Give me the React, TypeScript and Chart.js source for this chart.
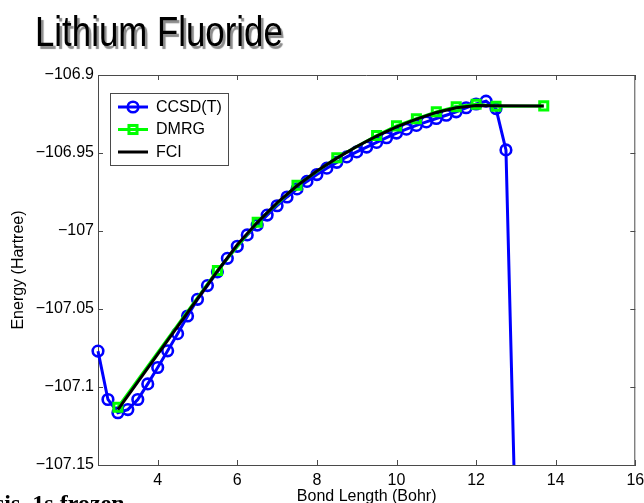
import React, { useEffect, useRef } from 'react';
import { Chart, registerables } from 'chart.js';

Chart.register(...registerables);

const chartTitle = 'Lithium Fluoride';
const footText = 'sis, 1s frozen';
const xTitle = 'Bond Length (Bohr)';
const yTitle = 'Energy (Hartree)';
const seriesNames = ['CCSD(T)', 'DMRG', 'FCI'];

const ccsdX = [2.5, 2.75, 3, 3.25, 3.5, 3.75, 4, 4.25, 4.5, 4.75, 5, 5.25, 5.5, 5.75, 6, 6.25, 6.5, 6.75, 7, 7.25, 7.5, 7.75, 8, 8.25, 8.5, 8.75, 9, 9.25, 9.5, 9.75, 10, 10.25, 10.5, 10.75, 11, 11.25, 11.5, 11.75, 12, 12.25, 12.5, 12.75, 13];
const ccsdY = [-107.077, -107.108, -107.1165, -107.1145, -107.108, -107.098, -107.0875, -107.0768, -107.0658, -107.0545, -107.0438, -107.035, -107.0262, -107.0175, -107.0098, -107.0025, -106.9962, -106.9898, -106.9838, -106.9782, -106.973, -106.9682, -106.9638, -106.9597, -106.956, -106.9525, -106.9493, -106.9462, -106.9432, -106.9402, -106.9372, -106.9347, -106.9323, -106.9301, -106.9279, -106.9258, -106.9236, -106.921, -106.9186, -106.9168, -106.9215, -106.948, -107.2];

const dmrgX = [3.0, 5.5, 6.5, 7.5, 8.5, 9.5, 10, 10.5, 11, 11.5, 12, 12.5, 13.7];
const dmrgY = [-107.113, -107.0253, -106.9944, -106.9707, -106.953, -106.9388, -106.9326, -106.928, -106.9236, -106.9204, -106.9188, -106.92, -106.9198];

const fciX = [3.0, 5.5, 6.0, 6.5, 7.0, 7.5, 8.0, 8.5, 9.0, 9.5, 10, 10.5, 11, 11.5, 12, 12.5, 13.7];
const fciY = [-107.1145, -107.0258, -107.0088, -106.9946, -106.982, -106.971, -106.9615, -106.9533, -106.9458, -106.9392, -106.9332, -106.9283, -106.924, -106.921, -106.9195, -106.9197, -106.9198];

const xTicks = [4, 6, 8, 10, 12, 14, 16];
const yTicks = [-107.15, -107.1, -107.05, -107, -106.95, -106.9];
const yTickLabels = ['\u2212107.15', '\u2212107.1', '\u2212107.05', '\u2212107', '\u2212106.95', '\u2212106.9'];

const FONT = '"Liberation Sans", Arial, Helvetica, sans-serif';
const BLUE = '#0000ff';
const GREEN = '#00ff00';
const BLACK = '#000000';
const AXIS = '#4a4a4a';

const zip = (xs: number[], ys: number[]) => xs.map((x, i) => ({ x, y: ys[i] }));

const boxPlugin = {
  id: 'matlabBox',
  afterDatasetsDraw(chart: any) {
    const { ctx, chartArea, scales } = chart;
    const { left, right, top, bottom } = chartArea;
    const x = scales.x;
    const y = scales.y;
    ctx.save();
    ctx.strokeStyle = AXIS;
    ctx.lineWidth = 1;
    ctx.beginPath();
    ctx.moveTo(left, top + 0.5);
    ctx.lineTo(right, top + 0.5);
    ctx.moveTo(right - 0.5, top);
    ctx.lineTo(right - 0.5, bottom);
    const tl = 5;
    xTicks.forEach((v) => {
      const px = Math.round(x.getPixelForValue(v)) + 0.5;
      ctx.moveTo(px, bottom);
      ctx.lineTo(px, bottom - tl);
      ctx.moveTo(px, top);
      ctx.lineTo(px, top + tl);
    });
    yTicks.forEach((v) => {
      const py = Math.round(y.getPixelForValue(v)) + 0.5;
      ctx.moveTo(left, py);
      ctx.lineTo(left + tl, py);
      ctx.moveTo(right, py);
      ctx.lineTo(right - tl, py);
    });
    ctx.stroke();
    ctx.restore();
  },
};

const legendPlugin = {
  id: 'matlabLegend',
  afterDraw(chart: any) {
    const { ctx, chartArea } = chart;
    const bx = chartArea.left + 12;
    const by = chartArea.top + 18;
    const bw = 118;
    const bh = 72;
    ctx.save();
    ctx.fillStyle = '#ffffff';
    ctx.fillRect(bx, by, bw, bh);
    ctx.strokeStyle = AXIS;
    ctx.lineWidth = 1;
    ctx.strokeRect(bx + 0.5, by + 0.5, bw, bh);
    const rows = [by + 14, by + 36.5, by + 59];
    const ds = chart.data.datasets;
    ds.forEach((d: any, i: number) => {
      const ry = rows[i];
      const x0 = bx + 8;
      const x1 = bx + 38;
      const cx = (x0 + x1) / 2;
      ctx.strokeStyle = d.borderColor;
      ctx.lineWidth = d.borderWidth;
      ctx.beginPath();
      ctx.moveTo(x0, ry);
      ctx.lineTo(x1, ry);
      ctx.stroke();
      if (d.pointStyle === 'circle' && d.pointRadius > 0) {
        ctx.lineWidth = d.pointBorderWidth;
        ctx.beginPath();
        ctx.arc(cx, ry, d.pointRadius, 0, Math.PI * 2);
        ctx.stroke();
      } else if (d.pointStyle === 'rect' && d.pointRadius > 0) {
        const s = d.pointRadius * Math.SQRT1_2;
        ctx.lineWidth = d.pointBorderWidth;
        ctx.strokeRect(cx - s, ry - s, 2 * s, 2 * s);
      }
      ctx.fillStyle = '#000';
      ctx.font = `16px ${FONT}`;
      ctx.textBaseline = 'middle';
      ctx.textAlign = 'left';
      ctx.fillText(d.label, bx + 46, ry + 0.5);
    });
    ctx.restore();
  },
};

export default function App() {
  const ref = useRef<HTMLCanvasElement | null>(null);

  useEffect(() => {
    if (!ref.current) return;
    const clip = { left: false, top: false, right: false, bottom: 0 } as any;
    const chart = new Chart(ref.current, {
      type: 'line',
      data: {
        datasets: [
          {
            label: seriesNames[0],
            data: zip(ccsdX, ccsdY),
            borderColor: BLUE,
            borderWidth: 3,
            pointStyle: 'circle',
            pointRadius: 5.3,
            pointBorderWidth: 2.6,
            pointBorderColor: BLUE,
            pointBackgroundColor: 'rgba(0,0,0,0)',
            tension: 0,
            order: 3,
            clip,
          },
          {
            label: seriesNames[1],
            data: zip(dmrgX, dmrgY),
            borderColor: GREEN,
            borderWidth: 3,
            pointStyle: 'rect',
            pointRadius: 5.7,
            pointBorderWidth: 3,
            pointBorderColor: GREEN,
            pointBackgroundColor: 'rgba(0,0,0,0)',
            tension: 0,
            order: 2,
            clip,
          },
          {
            label: seriesNames[2],
            data: zip(fciX, fciY),
            borderColor: BLACK,
            borderWidth: 3,
            pointStyle: 'line',
            pointRadius: 0,
            pointBorderWidth: 0,
            tension: 0,
            order: 1,
            clip,
          },
        ] as any,
      },
      options: {
        animation: false,
        responsive: false,
        events: [],
        layout: { padding: { left: 0, right: 8, top: 75, bottom: 0 } },
        plugins: {
          legend: { display: false },
          tooltip: { enabled: false },
          title: { display: false },
        },
        scales: {
          x: {
            type: 'linear',
            min: 2.5,
            max: 16,
            afterBuildTicks: (s: any) => {
              s.ticks = xTicks.map((v) => ({ value: v }));
            },
            afterFit: (s: any) => {
              s.height = 38;
              s.paddingLeft = 0;
              s.paddingRight = 0;
            },
            grid: { drawOnChartArea: false, drawTicks: false },
            border: { display: true, color: AXIS, width: 1 },
            ticks: {
              autoSkip: false,
              maxRotation: 0,
              padding: 6,
              color: '#000',
              font: { family: FONT, size: 16 },
              callback: (v: any) => String(v),
            },
            title: {
              display: true,
              text: xTitle,
              color: '#000',
              font: { family: FONT, size: 16 },
              padding: { top: 0, bottom: -3 },
            },
          },
          y: {
            type: 'linear',
            min: -107.15,
            max: -106.9,
            afterBuildTicks: (s: any) => {
              s.ticks = yTicks.map((v) => ({ value: v }));
            },
            afterFit: (s: any) => {
              s.width = 98;
              s.paddingTop = 0;
              s.paddingBottom = 0;
            },
            grid: { drawOnChartArea: false, drawTicks: false },
            border: { display: true, color: AXIS, width: 1 },
            ticks: {
              autoSkip: false,
              padding: 4,
              color: '#000',
              font: { family: FONT, size: 16 },
              callback: (_v: any, i: number) => yTickLabels[i],
            },
            title: {
              display: true,
              text: yTitle,
              color: '#000',
              font: { family: FONT, size: 16 },
              padding: { top: 9, bottom: 0 },
            },
          },
        },
      } as any,
      plugins: [boxPlugin, legendPlugin],
    });
    return () => chart.destroy();
  }, []);

  return (
    <div
      style={{
        position: 'fixed',
        left: 0,
        top: 0,
        width: 644,
        height: 503,
        overflow: 'hidden',
        background: '#fff',
      }}
    >
      <canvas
        ref={ref}
        width={644}
        height={503}
        style={{ position: 'absolute', left: 0, top: 0, width: 644, height: 503 }}
      />
      <div
        style={{
          position: 'absolute',
          left: 35,
          top: 10,
          fontFamily: FONT,
          fontSize: 43,
          lineHeight: '43px',
          whiteSpace: 'nowrap',
          color: '#000',
          transform: 'scaleX(0.81)',
          transformOrigin: 'left top',
          textShadow: '3px 3px 1px #8c8c8c',
        }}
      >
        {chartTitle}
      </div>
      <div
        style={{
          position: 'absolute',
          left: -5,
          top: 491,
          fontFamily: '"Liberation Serif", "Times New Roman", serif',
          fontWeight: 'bold',
          fontSize: 24,
          lineHeight: '24px',
          whiteSpace: 'nowrap',
          color: '#000',
        }}
      >
        {footText}
      </div>
    </div>
  );
}
